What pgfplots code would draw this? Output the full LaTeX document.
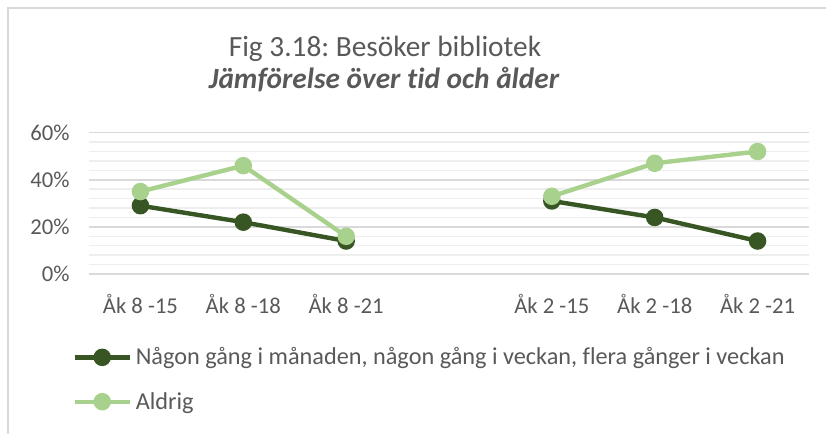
\documentclass[border=0pt]{standalone}
\usepackage{fontspec}
\setmainfont{Carlito}[Ligatures=NoCommon]
\usepackage{pgfplots}
\pgfplotsset{compat=1.18}
\definecolor{darkg}{HTML}{375623}
\definecolor{lightg}{HTML}{A9D18E}
\definecolor{txt}{HTML}{595959}
\definecolor{majg}{HTML}{D9D9D9}
\definecolor{ming}{HTML}{EEEEEE}
\frenchspacing
\begin{document}
\begin{tikzpicture}
\useasboundingbox (0,0) rectangle (619.5pt,325.5pt);
\draw[majg, line width=1.5pt] (6pt,0pt) -- (6pt,319.5pt) -- (619.5pt,319.5pt);
\node[anchor=base, text=txt, font=\fontsize{22}{26}\selectfont] at (288.75pt,283pt) {Fig 3.18: Besöker bibliotek};
\node[anchor=base, text=txt, font=\fontsize{22}{26}\selectfont\bfseries\itshape] at (288pt,259pt) {Jämförelse över tid och ålder};
\begin{axis}[
  at={(66.75pt,120pt)}, anchor=south west,
  scale only axis, width=540pt, height=106pt,
  xmin=-0.5, xmax=6.5, ymin=0, ymax=60,
  xtick={0,1,2,4,5,6},
  xticklabels={Åk 8 -15,Åk 8 -18,Åk 8 -21,Åk 2 -15,Åk 2 -18,Åk 2 -21},
  ytick={0,20,40,60},
  yticklabels={0\%,20\%,40\%,60\%},
  minor y tick num=4,
  ymajorgrids, yminorgrids,
  major grid style={majg, line width=1.1pt},
  minor grid style={ming, line width=1.1pt},
  axis line style={draw=none},
  tick style={draw=none},
  ticklabel style={text=txt, font=\fontsize{17}{20}\selectfont},
  yticklabel style={xshift=-11pt},
  xticklabel style={yshift=-11.5pt},
  legend style={at={(-0.023,-0.52)}, anchor=north west, draw=none, fill=none,
    inner sep=0pt, row sep=19pt, font=\fontsize{18.2}{21}\selectfont, text=txt,
    nodes={inner xsep=3pt, inner ysep=0pt}},
  legend cell align=left,
  legend image code/.code={\draw[#1,mark repeat=2,mark phase=2] plot coordinates {(0pt,0pt) (20.5pt,0pt) (41pt,0pt)};},
]
\addplot[darkg, line width=3.3pt, mark=*, mark size=4.9pt, mark options={solid}, unbounded coords=jump] coordinates {(0,29) (1,22) (2,14) (3,nan) (4,31) (5,24) (6,14)};
\addlegendentry{Någon gång i månaden, någon gång i veckan, flera gånger i veckan}
\addplot[lightg, line width=3.3pt, mark=*, mark size=4.9pt, mark options={solid}, unbounded coords=jump] coordinates {(0,35) (1,46) (2,16) (3,nan) (4,33) (5,47) (6,52)};
\addlegendentry{Aldrig}
\end{axis}
\end{tikzpicture}
\end{document}
